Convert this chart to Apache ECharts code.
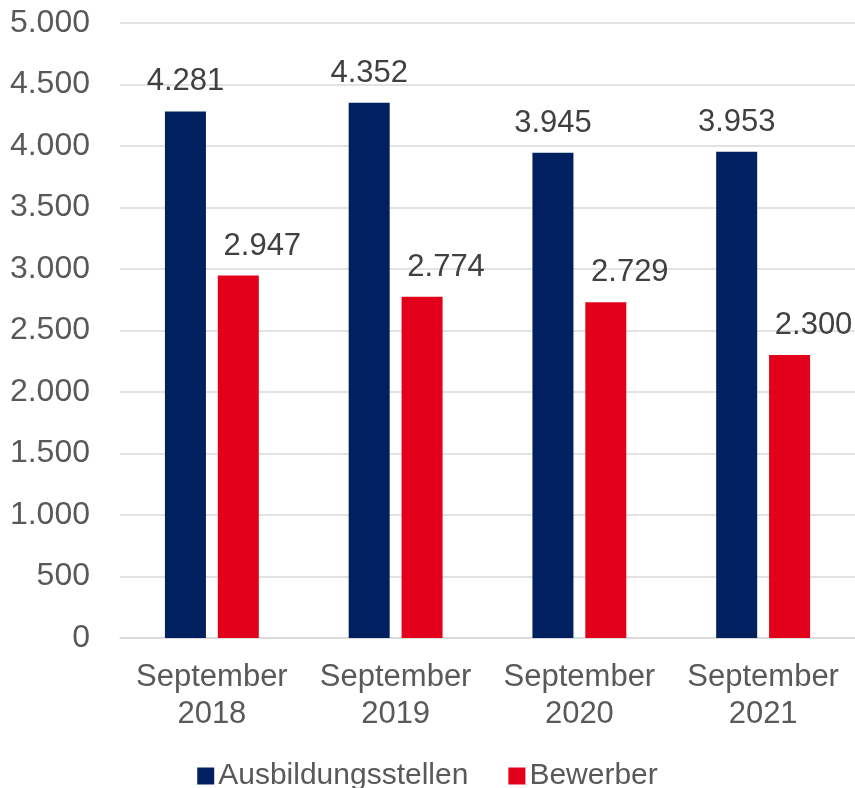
<!DOCTYPE html>
<html>
<head>
<meta charset="utf-8">
<script src="https://cdn.jsdelivr.net/npm/echarts@6/dist/echarts.min.js"></script>
<style>html,body{margin:0;padding:0;background:#fff;}#c{width:855px;height:788px;}</style>
</head>
<body>
<div id="c"></div>
<script>
const categories = ['September\n2018', 'September\n2019', 'September\n2020', 'September\n2021'];
const ausbildungsstellen = [4281, 4352, 3945, 3953];
const bewerber = [2947, 2774, 2729, 2300];
const seriesNames = ['Ausbildungsstellen', 'Bewerber'];

function fmt(v) {
  return String(v).replace(/\B(?=(\d{3})+(?!\d))/g, '.');
}
const FONT = '"Liberation Sans", Arial, sans-serif';
const chart = echarts.init(document.getElementById('c'));
chart.setOption({
  animation: false,
  textStyle: { fontFamily: FONT },
  grid: { left: 120, right: 0, top: 23, bottom: 150, containLabel: false },
  legend: {
    top: 756,
    left: 'center',
    itemWidth: 17,
    itemHeight: 17,
    itemGap: 40,
    icon: 'rect',
    textStyle: { fontSize: 30, color: '#595959', fontFamily: FONT, padding: [0, 0, 0, -1] },
    data: seriesNames
  },
  xAxis: {
    type: 'category',
    data: categories,
    axisLine: { lineStyle: { color: '#d9d9d9', width: 1.5 } },
    axisTick: { show: false },
    axisLabel: { fontSize: 31, color: '#595959', lineHeight: 37, margin: 21, interval: 0, fontFamily: FONT }
  },
  yAxis: {
    type: 'value',
    min: 0,
    max: 5000,
    interval: 500,
    axisLine: { show: false },
    axisTick: { show: false },
    splitLine: { lineStyle: { color: '#d9d9d9', width: 1.5 } },
    axisLabel: { fontSize: 32, color: '#595959', margin: 30, formatter: v => fmt(v), fontFamily: FONT }
  },
  series: [
    {
      name: seriesNames[0],
      type: 'bar',
      data: ausbildungsstellen,
      barWidth: 41,
      barGap: '29%',
      itemStyle: { color: '#002060' },
      label: { show: true, position: 'top', distance: 14, fontSize: 31, color: '#404040', formatter: p => fmt(p.value), fontFamily: FONT }
    },
    {
      name: seriesNames[1],
      type: 'bar',
      data: bewerber,
      barWidth: 41,
      barGap: '29%',
      itemStyle: { color: '#E2001A' },
      label: { show: true, position: 'top', distance: 14, offset: [24, 0], fontSize: 31, color: '#404040', formatter: p => fmt(p.value), fontFamily: FONT }
    }
  ]
});
</script>
</body>
</html>
